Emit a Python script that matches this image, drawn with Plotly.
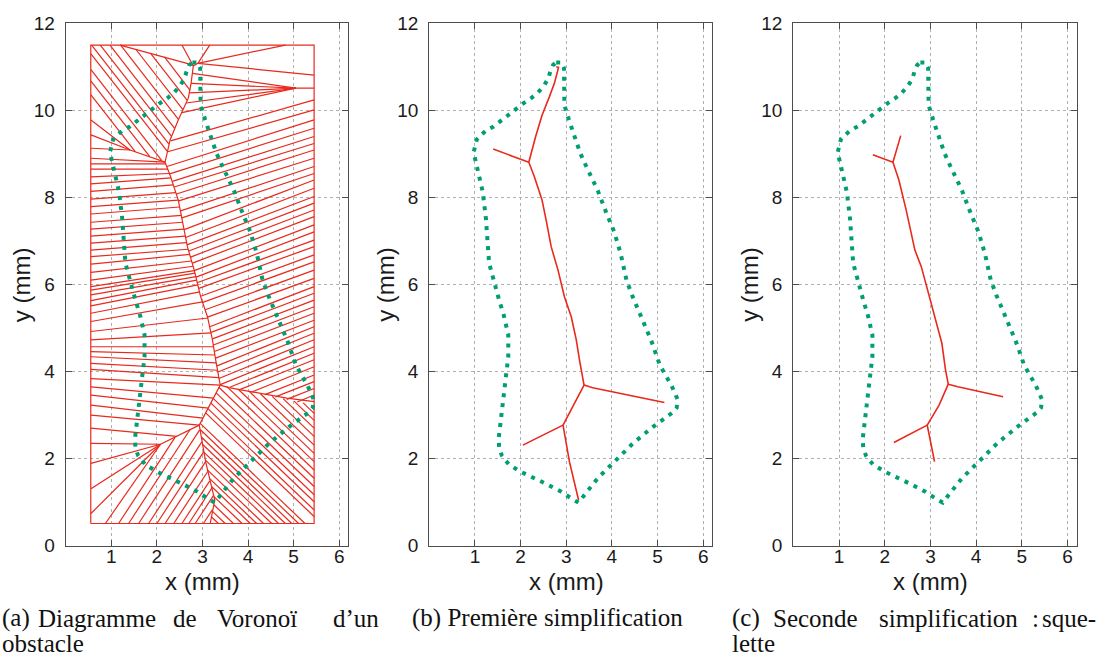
import plotly.graph_objects as go

RED = '#e8291c'
GREEN = '#009e73'

# ---------------- obstacle boundary (mm) ----------------
boundary_x = [2.78, 2.89, 2.95, 2.95, 2.96, 3.06, 3.18, 3.31, 3.44, 3.69, 3.88, 4.05, 4.19, 4.32, 4.44,
              4.61, 4.87, 5.05, 5.31, 5.44, 5.42, 5.33, 5.16, 4.90, 4.46, 4.06, 3.69, 3.47, 3.33, 3.27,
              3.15, 2.89, 2.56, 2.27, 2.00, 1.74, 1.59, 1.53, 1.52, 1.55, 1.61, 1.67, 1.73, 1.73, 1.68,
              1.63, 1.53, 1.44, 1.37, 1.31, 1.28, 1.24, 1.17, 1.09, 1.01, 0.97, 1.00, 1.04, 1.13, 1.26,
              1.41, 1.61, 1.80, 2.06, 2.23, 2.38, 2.52, 2.61, 2.65, 2.71, 2.78]
boundary_y = [11.10, 11.10, 10.97, 10.55, 10.12, 9.78, 9.40, 9.01, 8.71, 8.16, 7.64, 7.21, 6.72, 6.10, 5.76,
              5.34, 4.69, 4.15, 3.67, 3.36, 3.17, 3.06, 2.93, 2.73, 2.35, 1.93, 1.55, 1.26, 1.05, 0.99,
              1.06, 1.24, 1.42, 1.57, 1.70, 1.87, 2.07, 2.24, 2.47, 2.73, 3.19, 3.81, 4.34, 4.84, 5.07,
              5.30, 5.64, 6.04, 6.26, 6.49, 6.91, 7.52, 8.13, 8.55, 8.86, 9.03, 9.19, 9.33, 9.43, 9.55,
              9.63, 9.80, 9.96, 10.16, 10.28, 10.41, 10.58, 10.74, 10.89, 11.04, 11.10]

# ---------------- panel (a): Voronoi diagram ----------------
box_x = [0.55, 5.45, 5.45, 0.55, 0.55]
box_y = [0.51, 0.51, 11.50, 11.50, 0.51]

spine_a_x = [2.90, 2.80, 2.75, 2.69, 2.47, 2.29, 2.18, 2.30, 2.47, 2.56, 2.67, 2.82, 2.96, 3.11, 3.22,
             3.29, 3.39, 3.18, 2.93, 3.07, 3.27, 3.17]
spine_a_y = [11.08, 11.02, 10.62, 10.28, 9.78, 9.32, 8.81, 8.48, 7.94, 7.48, 6.87, 6.33, 5.72, 5.26, 4.73,
             4.27, 3.69, 3.27, 2.77, 1.93, 1.05, 0.51]
branches_a = [
    [(2.18, 8.81), (1.41, 9.09)],
    [(3.39, 3.69), (3.58, 3.63), (4.85, 3.39), (5.45, 3.31)],
    [(2.93, 2.77), (2.08, 2.33)],
]

# top fan (x0, y0, x1, y1)
top_segments = [
    (2.55, 11.50, 2.80, 11.02), (3.16, 11.50, 2.90, 11.08), (1.19, 11.50, 2.80, 11.04),
    (2.90, 11.08, 4.82, 11.50), (2.90, 11.08, 5.45, 10.81),
    (2.78, 10.85, 5.05, 10.51), (2.75, 10.62, 5.05, 10.51), (2.71, 10.40, 5.05, 10.51),
    (2.64, 10.17, 5.05, 10.51), (2.55, 9.95, 5.05, 10.51), (5.05, 10.51, 5.45, 10.51),
]
# upper-left family (x0, y0, x1, y1)
upper_left_segments = [
    (0.554, 10.355, 1.526, 9.050), (0.554, 10.670, 1.841, 8.945), (0.554, 10.935, 2.104, 8.853),
    (0.554, 11.300, 2.235, 9.050), (0.569, 11.500, 2.265, 9.227), (0.759, 11.500, 2.323, 9.405),
    (0.971, 11.500, 2.389, 9.588), (1.205, 11.500, 2.477, 9.787), (1.537, 11.404, 2.572, 10.017),
    (1.859, 11.315, 2.667, 10.232), (2.166, 11.230, 2.730, 10.461),
    (0.554, 9.780, 1.410, 9.090), (0.554, 9.436, 1.410, 9.090), (0.554, 9.130, 1.410, 9.090),
]
# left family: left-edge y, end x, end y
left_family = [
    (8.90, 2.18, 8.81), (8.77, 2.195, 8.77), (8.65, 2.24, 8.65), (8.47, 2.27, 8.55), (8.31, 2.31, 8.45),
    (8.14, 2.36, 8.29), (7.96, 2.42, 8.11), (7.79, 2.47, 7.94), (7.62, 2.50, 7.78), (7.43, 2.54, 7.59),
    (7.27, 2.57, 7.43), (7.11, 2.60, 7.27), (6.95, 2.63, 7.11), (6.79, 2.65, 6.96), (6.64, 2.69, 6.81),
    (6.47, 2.72, 6.69), (6.28, 2.76, 6.54), (6.10, 2.80, 6.42), (5.95, 2.82, 6.32), (5.87, 2.84, 6.26),
    (5.76, 2.86, 6.18), (5.63, 2.87, 6.10), (5.51, 2.90, 5.99), (5.34, 2.94, 5.83), (5.15, 3.00, 5.60),
    (4.92, 3.12, 5.23), (4.73, 3.19, 4.89), (4.57, 3.24, 4.57), (4.46, 3.27, 4.38), (4.34, 3.30, 4.20),
    (4.19, 3.33, 4.03), (4.05, 3.36, 3.86), (3.84, 3.39, 3.69), (3.65, 3.24, 3.39), (3.46, 3.13, 3.16),
    (3.23, 3.01, 2.93), (3.00, 2.93, 2.77), (2.70, 2.44, 2.51), (2.35, 2.08, 2.33), (1.89, 2.08, 2.33),
    (1.31, 2.08, 2.33), (0.74, 2.08, 2.33),
]
# bottom-left family: bottom-edge x, end x, end y
bottom_left_family = [
    (0.87, 2.08, 2.33), (1.16, 2.40, 2.49), (1.38, 2.73, 2.67), (1.60, 2.94, 2.66), (1.82, 2.99, 2.39),
    (2.00, 3.03, 2.16), (2.18, 3.07, 1.93), (2.37, 3.12, 1.71), (2.55, 3.16, 1.49), (2.70, 3.21, 1.33),
    (2.84, 3.24, 1.15), (3.02, 3.22, 0.83),
]
# bottom-right family, right edge: right-edge y, end x, end y
bottom_right_edge_family = [
    (3.04, 5.21, 3.28), (2.88, 5.01, 3.32), (2.70, 4.77, 3.38), (2.51, 4.53, 3.43), (2.31, 4.27, 3.49),
    (2.12, 4.02, 3.55), (1.93, 3.78, 3.60), (1.74, 3.53, 3.66), (1.55, 3.36, 3.64), (1.36, 3.30, 3.51),
    (1.17, 3.24, 3.38), (1.01, 3.18, 3.28), (0.82, 3.12, 3.15), (0.67, 3.07, 3.05),
]
# bottom-right family, bottom edge: bottom-edge x, end x, end y
bottom_right_base_family = [
    (5.25, 2.95, 2.81), (5.11, 2.95, 2.67), (4.96, 2.98, 2.49), (4.82, 3.005, 2.325), (4.67, 3.035, 2.145),
    (4.52, 3.065, 1.965), (4.34, 3.114, 1.736), (4.19, 3.158, 1.542), (4.05, 3.199, 1.361),
    (3.87, 3.252, 1.128), (3.68, 3.25, 0.94), (3.50, 3.22, 0.79), (3.35, 3.20, 0.66),
]
# right family: start x, start y, right-edge y
right_family = [
    (2.30, 9.30, 10.24), (2.24, 9.05, 10.01), (2.22, 8.71, 9.78), (2.28, 8.54, 9.59), (2.34, 8.37, 9.40),
    (2.38, 8.24, 9.24), (2.43, 8.08, 9.09), (2.48, 7.92, 8.90), (2.52, 7.69, 8.71), (2.55, 7.53, 8.55),
    (2.60, 7.26, 8.40), (2.63, 7.08, 8.21), (2.66, 6.91, 8.02), (2.70, 6.77, 7.87), (2.74, 6.63, 7.71),
    (2.78, 6.49, 7.56), (2.82, 6.32, 7.37), (2.86, 6.17, 7.21), (2.88, 6.04, 7.02), (2.92, 5.91, 6.87),
    (2.96, 5.73, 6.68), (3.01, 5.59, 6.52), (3.06, 5.42, 6.33), (3.11, 5.25, 6.14), (3.16, 5.03, 5.95),
    (3.19, 4.90, 5.80), (3.22, 4.75, 5.64), (3.24, 4.61, 5.49), (3.26, 4.46, 5.34), (3.29, 4.31, 5.18),
    (3.32, 4.13, 5.03), (3.34, 3.99, 4.88), (3.36, 3.84, 4.73), (3.39, 3.70, 4.57), (3.60, 3.64, 4.42),
    (3.83, 3.59, 4.27), (4.08, 3.53, 4.11), (4.37, 3.47, 3.92), (4.60, 3.42, 3.77), (4.85, 3.36, 3.61),
    (5.08, 3.30, 3.46),
]
BOX_LEFT, BOX_RIGHT, BOX_BOTTOM = 0.554, 5.45, 0.51

# ---------------- panel (b): first simplification ----------------
skel_b_x = [2.78, 2.83, 2.81, 2.74, 2.63, 2.47, 2.33, 2.18, 2.30, 2.47, 2.56, 2.67, 2.82, 2.96, 3.11,
            3.22, 3.29, 3.39, 3.18, 2.93, 3.07, 3.27]
skel_b_y = [11.00, 10.99, 10.90, 10.62, 10.31, 9.89, 9.40, 8.81, 8.48, 7.94, 7.48, 6.87, 6.33, 5.72, 5.26,
            4.73, 4.27, 3.69, 3.27, 2.77, 1.93, 1.05]
branches_b = [
    [(2.18, 8.81), (1.40, 9.11)],
    [(3.39, 3.69), (3.58, 3.63), (5.15, 3.29)],
    [(2.93, 2.77), (2.05, 2.31)],
]

# ---------------- panel (c): skeleton ----------------
skel_c_x = [2.35, 2.18, 2.31, 2.47, 2.66, 2.80, 2.88, 3.00, 3.18, 3.25, 3.33, 3.39, 3.19, 2.93, 3.09]
skel_c_y = [9.42, 8.81, 8.40, 7.71, 6.79, 6.41, 6.10, 5.64, 4.96, 4.65, 4.04, 3.71, 3.23, 2.77, 1.93]
branches_c = [
    [(2.18, 8.81), (1.74, 8.98)],
    [(3.39, 3.71), (3.60, 3.65), (4.59, 3.42)],
    [(2.93, 2.77), (2.20, 2.37)],
]

x_ticks = [1, 2, 3, 4, 5, 6]
y_ticks = [0, 2, 4, 6, 8, 10, 12]


def add_polyline(xs, ys, px, py, pts=None):
    if pts is not None:
        xs.extend([p[0] for p in pts])
        ys.extend([p[1] for p in pts])
    else:
        xs.extend(px)
        ys.extend(py)
    xs.append(None)
    ys.append(None)


# build panel (a) red lines
ax, ay = [], []
add_polyline(ax, ay, box_x, box_y)
add_polyline(ax, ay, spine_a_x, spine_a_y)
for br in branches_a:
    add_polyline(ax, ay, None, None, br)
for (x0, y0, x1, y1) in top_segments + upper_left_segments:
    add_polyline(ax, ay, [x0, x1], [y0, y1])
for (y0, x1, y1) in left_family:
    add_polyline(ax, ay, [BOX_LEFT, x1], [y0, y1])
for (x0, x1, y1) in bottom_left_family:
    add_polyline(ax, ay, [x0, x1], [BOX_BOTTOM, y1])
for (y0, x1, y1) in bottom_right_edge_family:
    add_polyline(ax, ay, [BOX_RIGHT, x1], [y0, y1])
for (x0, x1, y1) in bottom_right_base_family:
    add_polyline(ax, ay, [x0, x1], [BOX_BOTTOM, y1])
for (x0, y0, yr) in right_family:
    add_polyline(ax, ay, [x0, BOX_RIGHT], [y0, yr])

bx, by = [], []
add_polyline(bx, by, skel_b_x, skel_b_y)
for br in branches_b:
    add_polyline(bx, by, None, None, br)

cx, cy = [], []
add_polyline(cx, cy, skel_c_x, skel_c_y)
for br in branches_c:
    add_polyline(cx, cy, None, None, br)

fig = go.Figure()
panels = [(ax, ay, 1.2), (bx, by, 1.6), (cx, cy, 1.6)]
for i, (xs, ys, w) in enumerate(panels):
    xa = 'x' if i == 0 else f'x{i+1}'
    ya = 'y' if i == 0 else f'y{i+1}'
    fig.add_trace(go.Scatter(x=xs, y=ys, mode='lines', line=dict(color=RED, width=w),
                             xaxis=xa, yaxis=ya, hoverinfo='skip', showlegend=False))
    fig.add_trace(go.Scatter(x=boundary_x, y=boundary_y, mode='lines',
                             line=dict(color=GREEN, width=4, dash='4px,6px'),
                             xaxis=xa, yaxis=ya, hoverinfo='skip', showlegend=False))

W, H = 1110, 659
x_domains_px = [(65.7, 348.3), (429.3, 712.3), (793.3, 1076.7)]
y_dom = [1 - 545.7 / H, 1 - 23.3 / H]

AX_COL = '#4d4d4d'
tickfont = dict(family='Liberation Sans, Arial, sans-serif', size=19, color='#1a1a1a')
layout = dict(width=W, height=H, margin=dict(l=0, r=0, t=0, b=0),
              plot_bgcolor='white', paper_bgcolor='white', showlegend=False)
for i, (l, r) in enumerate(x_domains_px):
    sfx = '' if i == 0 else str(i + 1)
    layout['xaxis' + sfx] = dict(domain=[l / W, r / W], range=[0, 6.2], tickvals=x_ticks,
                                 anchor='y' + sfx, showgrid=True, gridcolor='#b0b0b0', griddash='dot',
                                 gridwidth=1, showline=True, linecolor=AX_COL, linewidth=1.2,
                                 mirror='ticks', ticks='inside', ticklen=6, tickcolor=AX_COL,
                                 zeroline=False, tickfont=tickfont, automargin=False,
                                 ticklabelstandoff=-7)
    layout['yaxis' + sfx] = dict(domain=y_dom, range=[0, 12], tickvals=y_ticks,
                                 anchor='x' + sfx, showgrid=True, gridcolor='#b0b0b0', griddash='dot',
                                 gridwidth=1, showline=True, linecolor=AX_COL, linewidth=1.2,
                                 mirror='ticks', ticks='inside', ticklen=6, tickcolor=AX_COL,
                                 zeroline=False, tickfont=tickfont, automargin=False,
                                 ticklabelstandoff=6)
fig.update_layout(**layout)

title_font = dict(family='Liberation Sans, Arial, sans-serif', size=24, color='#1a1a1a')
annotations = []
for i, (l, r) in enumerate(x_domains_px):
    sfx = '' if i == 0 else str(i + 1)
    annotations.append(dict(text='x (mm)', x=3.0, xref='x' + sfx, y=1 - 581 / H, yref='paper',
                            showarrow=False, font=title_font, xanchor='center', yanchor='middle'))
    annotations.append(dict(text='y (mm)', x=(l - 44) / W, xref='paper', y=6, yref='y' + sfx,
                            showarrow=False, font=title_font, textangle=-90,
                            xanchor='center', yanchor='middle'))

cap_font = dict(family='Liberation Serif, Times New Roman, serif', size=25, color='#111111')
# caption words: text, pixel x, anchor (justified first lines)
caption_line1 = [
    ('(a)', 0, 'left'), ('Diagramme', 97, 'center'), ('de', 185, 'center'), ('Voronoï', 257, 'center'),
    ('d’un', 381, 'right'),
    ('(b) Première simplification', 410, 'left'),
    ('(c)', 730, 'left'), ('Seconde', 815, 'center'), ('simplification', 948, 'center'),
    (':', 1035, 'center'), ('sque-', 1098, 'right'),
]
caption_line2 = [('obstacle', 0), ('lette', 730)]
for text, px, anchor in caption_line1:
    annotations.append(dict(text=text, x=px / W, y=1 - 618 / H, xref='paper', yref='paper',
                            showarrow=False, font=cap_font, xanchor=anchor, yanchor='middle'))
for text, px in caption_line2:
    annotations.append(dict(text=text, x=px / W, y=0.0, xref='paper', yref='paper',
                            showarrow=False, font=cap_font, xanchor='left', yanchor='bottom'))
fig.update_layout(annotations=annotations)

fig.write_html('out.html', config={'displayModeBar': False},
               post_script="document.body.style.margin='0px';document.body.style.overflow='hidden';")
